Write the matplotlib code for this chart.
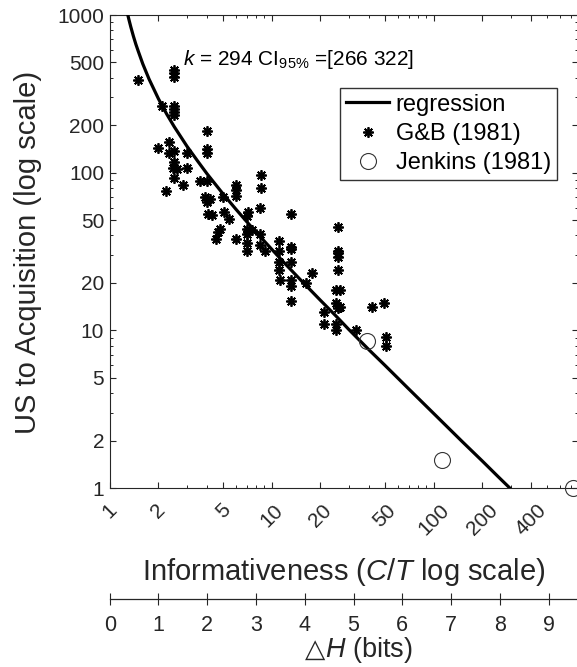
import numpy as np
import matplotlib.pyplot as plt
from matplotlib.ticker import FixedLocator, LogLocator, NullFormatter

plt.rcParams['font.family'] = ['Liberation Sans', 'DejaVu Sans']
plt.rcParams['mathtext.fontset'] = 'custom'
plt.rcParams['mathtext.rm'] = 'Liberation Sans'
plt.rcParams['mathtext.it'] = 'Liberation Sans:italic'

# G&B (1981): C/T vs US to acquisition
gb_ct = [1.49, 2.49, 2.49, 2.49, 2.09, 2.49, 2.49, 2.49, 2.49, 4.0,
         2.0, 2.32, 2.32, 2.49, 2.49, 2.47, 2.61, 2.49, 3.01, 3.01,
         2.22, 2.85, 4.0, 4.0, 3.6, 4.0, 3.88, 4.16, 4.0, 4.06,
         4.26, 4.98, 5.08, 4.8, 4.68, 4.53, 5.43, 6.02, 6.02, 6.02,
         6.02, 7.17, 7.01, 7.01, 7.01, 7.6, 7.01, 7.01, 8.59, 8.59,
         8.47, 8.47, 8.47, 9.09, 13.15, 11.1, 11.1, 13.15, 13.15, 11.1,
         11.1, 11.25, 13.15, 13.15, 13.15, 13.15, 16.4, 17.7, 25.8, 25.8,
         25.8, 25.8, 25.8, 25.0, 26.4, 25.0, 26.4, 25.8, 21.0, 21.0,
         25.0, 25.0, 33.1, 41.4, 49.4, 50.5, 50.5]
gb_us = [387, 448, 431, 404, 265, 265, 254, 243, 232, 184,
         144, 156, 134, 137, 117, 107, 106, 93, 134, 107,
         77, 84, 141, 133, 89, 89, 70, 68, 65, 55,
         54, 70, 56, 44, 42, 38, 51, 84, 78, 71,
         38, 56, 53, 44, 41, 43, 36, 32, 97, 80,
         60, 41, 35, 32, 55, 37, 32, 33, 34, 27,
         24, 21, 27, 21, 19, 15.4, 20, 23, 45, 32,
         31, 29, 24, 18, 18, 15, 14, 13.8, 13, 11,
         11, 10, 10, 14, 15, 9.1, 8.0]

# Jenkins (1981)
j_ct = [38.6, 112, 724]
j_us = [8.5, 1.5, 1.0]

# regression curve
fit_ct = [1.294, 1.31, 1.32, 1.35, 1.4, 1.45, 1.5, 1.6, 1.75, 2, 2.25, 2.5, 3, 3.5, 4,
          5, 6, 7, 8, 10, 12, 15, 20, 25, 30, 40, 50, 70, 100, 150, 200, 250, 295]
fit_us = [1000, 948, 919, 840, 735, 653, 590, 490, 392, 294, 235, 196, 147, 118, 98,
          73.5, 58.8, 49, 42, 32.7, 26.7, 21, 15.5, 12.3, 10.1, 7.5, 6.0, 4.26, 2.97,
          1.97, 1.48, 1.18, 1.0]

ct_ticks = [1, 2, 5, 10, 20, 50, 100, 200, 400]
us_ticks = [1, 2, 5, 10, 20, 50, 100, 200, 500, 1000]
bits_ticks = list(range(10))
ct_max = 778

W, H = 577, 667
grey = '#262626'
fig = plt.figure(figsize=(W / 100, H / 100), dpi=100)
ax_pos = [109.7 / W, 1 - 488 / H, (578 - 109.7) / W, 473 / H]
ax = fig.add_axes(ax_pos)

ax.plot(fit_ct, fit_us, color='black', lw=2.3, label='regression', zorder=3)
ax.plot(gb_ct, gb_us, ls='none', marker=(8, 2, 0), ms=7.5, mew=1.3, color='black',
        label='G&B (1981)', zorder=4)
ax.plot(j_ct, j_us, ls='none', marker='o', ms=11.5, mfc='none', mec='#333333', mew=0.8,
        label='Jenkins (1981)', clip_on=False, zorder=5)

ax.set_xscale('log')
ax.set_yscale('log')
ax.set_xlim(1, ct_max)
ax.set_ylim(1, 1000)

ax.xaxis.set_major_locator(FixedLocator(ct_ticks))
ax.xaxis.set_minor_locator(LogLocator(base=10, subs=np.arange(2, 10)))
ax.xaxis.set_minor_formatter(NullFormatter())
ax.set_xticklabels([str(t) for t in ct_ticks], rotation=45, ha='center', va='top')
ax.yaxis.set_major_locator(FixedLocator(us_ticks))
ax.yaxis.set_minor_locator(LogLocator(base=10, subs=np.arange(2, 10)))
ax.yaxis.set_minor_formatter(NullFormatter())
ax.set_yticklabels([str(t) for t in us_ticks])

ax.tick_params(which='both', direction='in', top=True, right=True, colors=grey, labelsize=15)
ax.tick_params(which='major', length=4, width=0.8)
ax.tick_params(which='minor', length=2.2, width=0.7)
ax.tick_params(axis='x', pad=9)
ax.tick_params(axis='y', pad=4)
for s in ax.spines.values():
    s.set_color(grey)
    s.set_linewidth(0.8)

ax.text(0.157, 0.905, r'$k$ = 294 CI$_{95\%}$ =[266 322]', transform=ax.transAxes,
        fontsize=15, va='center', ha='left')

bx = (557 - 109.7) / (578 - 109.7)
leg = ax.legend(loc='upper right', bbox_to_anchor=(bx, 0.846), borderaxespad=0,
                fancybox=False, edgecolor='#333333', framealpha=1, fontsize=17,
                handlelength=1.8, labelspacing=0.3, borderpad=0.25, handletextpad=0.3)
leg.get_frame().set_linewidth(1.0)

fig.text(344 / W, 1 - 572 / H, r'Informativeness ($C$/$T$ log scale)', fontsize=21,
         ha='center', va='center', color=grey)
fig.text(28 / W, 1 - 252 / H, 'US to Acquisition (log scale)', fontsize=21,
         ha='center', va='center', rotation=90, color=grey)

# second axis in bits
ax2 = fig.add_axes([ax_pos[0], 1 - 599.3 / H, ax_pos[2], 0.0001])
ax2.patch.set_visible(False)
for side in ['top', 'left', 'right']:
    ax2.spines[side].set_visible(False)
ax2.spines['bottom'].set_color(grey)
ax2.spines['bottom'].set_linewidth(0.9)
ax2.set_xlim(0, np.log2(ct_max))
ax2.set_xticks(bits_ticks)
ax2.set_yticks([])
ax2.tick_params(axis='x', direction='inout', length=9, width=0.8, colors=grey,
                labelsize=15.5, pad=6.5)
fig.text(315 / W, 1 - 657 / H, '\u25b3', family='DejaVu Sans', fontsize=19,
         ha='center', va='baseline', color=grey)
fig.text(325 / W, 1 - 657 / H, r'$H$ (bits)', fontsize=19.5, ha='left',
         va='baseline', color=grey)

fig.savefig('out.png', dpi=100)
